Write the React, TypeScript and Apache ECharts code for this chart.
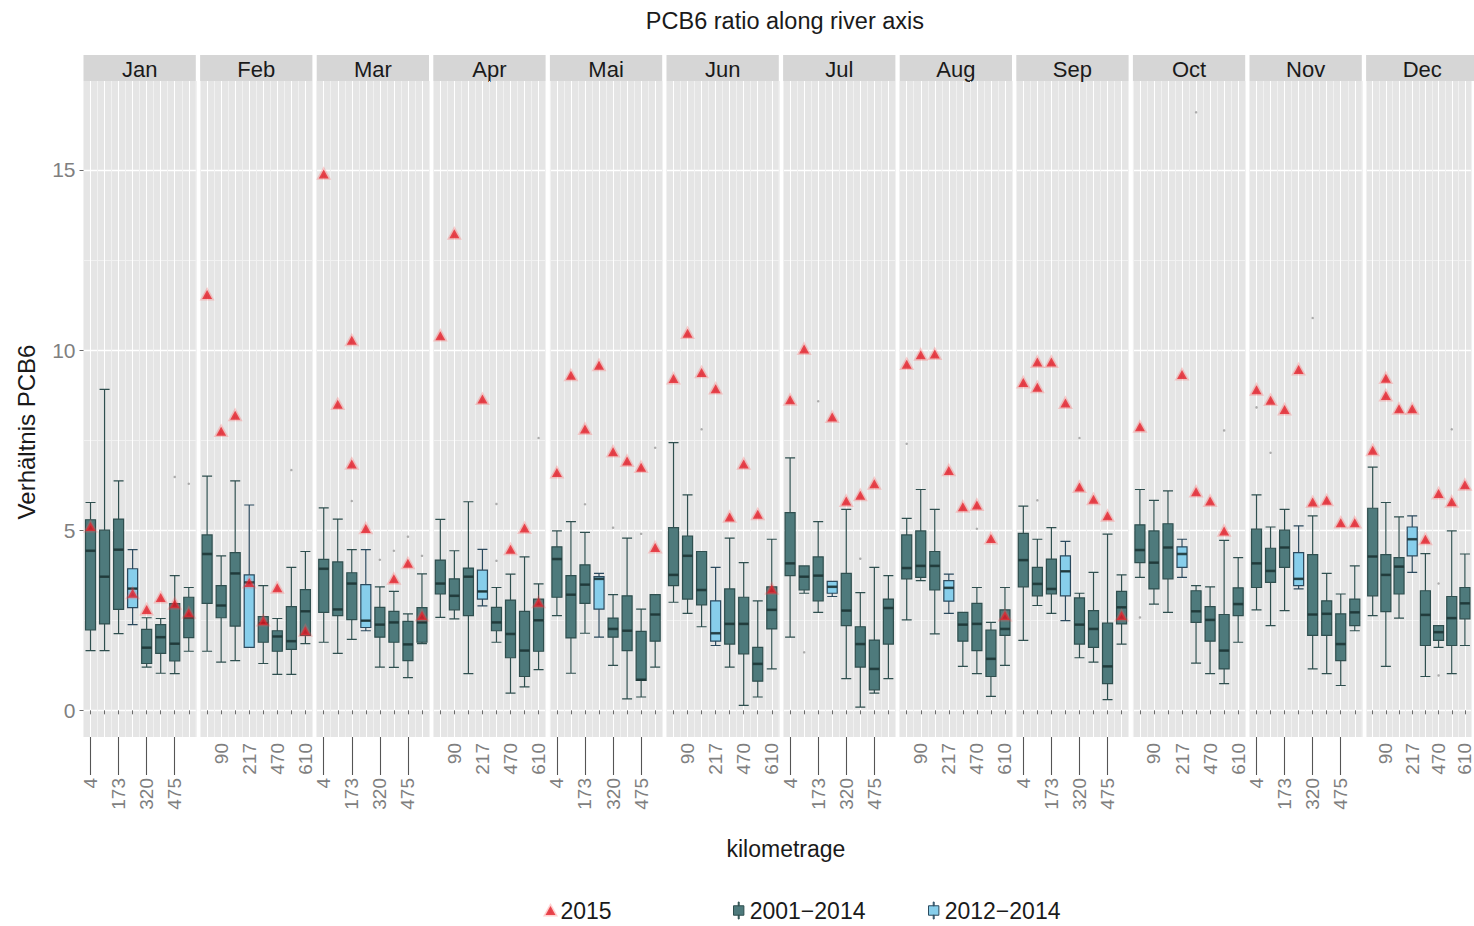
import React, { useEffect, useRef } from "react";
import * as echarts from "echarts";

// ---------- data ----------
const months = ["Jan", "Feb", "Mar", "Apr", "Mai", "Jun", "Jul", "Aug", "Sep", "Oct", "Nov", "Dec"];
const stations = ["4", "90", "173", "217", "320", "470", "475", "610"];
const NAME_2015 = "2015";
const NAME_DARK = "2001\u22122014";
const NAME_LIGHT = "2012\u22122014";

type Box = [number, number, number, number, number] | null;

// [min, Q1, median, Q3, max] per station, 2001–2014 (station 217 has none)
const box2001_2014: Box[][] = [
  [[1.66, 2.23, 4.43, 5.29, 5.77], [1.66, 2.4, 3.71, 5.0, 8.91], [2.13, 2.8, 4.46, 5.31, 6.37], null, [1.2, 1.3, 1.74, 2.25, 2.57], [1.03, 1.58, 2.03, 2.38, 2.55], [1.02, 1.37, 1.85, 2.96, 3.74], [1.64, 2.02, 2.57, 3.14, 3.41]],
  [[1.64, 2.97, 4.34, 4.87, 6.5], [1.34, 2.57, 2.91, 3.46, 4.29], [1.38, 2.34, 3.8, 4.38, 6.37], null, [1.3, 1.89, 2.42, 2.6, 3.46], [1.0, 1.64, 2.05, 2.21, 2.55], [1.0, 1.69, 1.92, 2.88, 3.97], [1.85, 2.08, 2.75, 3.35, 4.41]],
  [[1.89, 2.72, 3.93, 4.19, 5.62], [1.58, 2.63, 2.8, 4.12, 5.31], [1.97, 2.52, 3.52, 3.82, 4.46], null, [1.2, 2.03, 2.38, 2.86, 3.43], [1.19, 1.89, 2.44, 2.75, 3.3], [0.91, 1.38, 1.83, 2.47, 2.68], [1.85, 1.89, 2.44, 2.85, 3.79]],
  [[2.58, 3.23, 3.52, 4.17, 5.3], [2.54, 2.79, 3.18, 3.65, 4.43], [1.02, 2.63, 3.71, 3.95, 5.79], null, [1.89, 2.21, 2.44, 2.86, 3.41], [0.48, 1.46, 2.12, 3.06, 3.78], [0.65, 0.94, 1.66, 2.75, 4.26], [1.13, 1.64, 2.5, 3.09, 3.51]],
  [[2.63, 3.14, 4.2, 4.54, 4.98], [1.03, 2.01, 3.21, 3.74, 5.24], [2.14, 2.97, 3.49, 4.04, 4.94], null, [1.25, 2.03, 2.26, 2.56, 3.21], [0.32, 1.66, 2.21, 3.18, 4.78], [0.37, 0.83, 0.85, 2.19, 2.81], [1.2, 1.92, 2.66, 3.21, 3.21]],
  [[3.0, 3.46, 3.76, 5.07, 7.43], [2.69, 3.09, 4.29, 4.84, 5.98], [2.32, 2.93, 3.34, 4.41, 4.41], null, [1.2, 1.84, 2.4, 3.37, 4.78], [0.14, 1.57, 2.4, 3.14, 4.1], [0.37, 0.81, 1.29, 1.75, 3.04], [1.15, 2.26, 2.79, 3.43, 4.75]],
  [[2.03, 3.74, 4.08, 5.49, 7.01], [3.25, 3.34, 3.71, 4.01, 4.01], [2.72, 3.04, 3.74, 4.26, 5.24], null, [0.88, 2.35, 2.77, 3.8, 5.58], [0.09, 1.2, 1.84, 2.32, 3.27], [0.48, 0.57, 1.15, 1.95, 3.97], [0.88, 1.84, 2.84, 3.09, 3.74]],
  [[2.51, 3.65, 3.95, 4.87, 5.33], [3.6, 3.69, 4.01, 4.98, 6.13], [2.12, 3.34, 4.01, 4.41, 5.58], null, [1.22, 1.92, 2.38, 2.72, 2.72], [1.02, 1.66, 2.4, 2.97, 3.41], [0.39, 0.94, 1.43, 2.23, 2.44], [1.25, 2.08, 2.26, 2.79, 3.41]],
  [[1.94, 3.43, 4.17, 4.91, 5.67], [2.91, 3.18, 3.51, 3.97, 4.75], [2.69, 3.23, 3.37, 4.2, 5.07], null, [1.46, 1.84, 2.38, 3.12, 3.25], [1.34, 1.75, 2.26, 2.77, 3.83], [0.3, 0.74, 1.22, 2.42, 4.89], [1.84, 2.4, 2.86, 3.3, 3.76]],
  [[3.69, 4.1, 4.45, 5.15, 6.13], [2.95, 3.37, 4.1, 4.98, 5.83], [2.72, 3.65, 4.52, 5.18, 6.09], null, [1.31, 2.44, 2.75, 3.32, 3.46], [1.02, 1.92, 2.51, 2.88, 3.43], [0.74, 1.15, 1.66, 2.66, 4.72], [1.89, 2.63, 2.95, 3.4, 4.24]],
  [[2.79, 3.41, 4.08, 5.03, 5.98], [2.35, 3.55, 3.87, 4.5, 5.09], [2.77, 3.97, 4.52, 5.0, 5.58], null, [1.15, 2.08, 2.66, 4.32, 5.4], [1.02, 2.08, 2.68, 3.04, 3.8], [0.69, 1.38, 1.84, 2.68, 3.23], [2.21, 2.35, 2.72, 3.09, 4.01]],
  [[2.63, 3.18, 4.27, 5.61, 6.75], [1.22, 2.74, 3.76, 4.32, 5.77], [2.56, 3.23, 3.99, 4.24, 5.37], null, [0.94, 1.8, 2.65, 3.32, 4.35], [1.75, 1.94, 2.17, 2.35, 2.35], [1.02, 1.8, 2.56, 3.16, 4.98], [1.8, 2.54, 2.97, 3.41, 4.34]],
];

// 2012–2014 boxes, only at station 217, one per month
const station2012_2014 = 3;
const box2012_2014: Box[] = [
  [2.38, 2.85, 3.38, 3.93, 4.46],
  [1.75, 1.75, 3.55, 3.76, 5.7],
  [2.21, 2.3, 2.49, 3.49, 4.46],
  [2.9, 3.09, 3.3, 3.89, 4.47],
  [2.03, 2.81, 3.65, 3.71, 3.8],
  [1.8, 1.92, 2.14, 3.04, 3.97],
  [3.16, 3.25, 3.43, 3.58, 3.58],
  [2.69, 3.03, 3.4, 3.6, 3.78],
  [2.49, 3.18, 3.86, 4.29, 4.69],
  [3.69, 3.97, 4.34, 4.54, 4.75],
  [3.37, 3.46, 3.65, 4.38, 5.12],
  [3.83, 4.29, 4.75, 5.09, 5.4],
];

// 2015 values: [station index, value] per month
const pts2015: [number, number][][] = [
  [[0, 5.1], [3, 3.25], [4, 2.8], [5, 3.13], [6, 2.96], [7, 2.71]],
  [[0, 11.54], [1, 7.75], [2, 8.19], [3, 3.55], [4, 2.49], [5, 3.4], [7, 2.21]],
  [[0, 14.89], [1, 8.5], [2, 10.27], [2, 6.84], [3, 5.05], [5, 3.65], [6, 4.08], [7, 2.63]],
  [[0, 10.4], [1, 13.23], [3, 8.64], [5, 4.47], [6, 5.06], [7, 3.0]],
  [[0, 6.6], [1, 9.3], [2, 7.81], [3, 9.58], [4, 7.18], [5, 6.92], [6, 6.75], [7, 4.52]],
  [[0, 9.21], [1, 10.47], [2, 9.38], [3, 8.93], [4, 5.37], [5, 6.84], [6, 5.44], [7, 3.37]],
  [[0, 8.62], [1, 10.03], [3, 8.14], [4, 5.81], [5, 5.97], [6, 6.29]],
  [[0, 9.61], [1, 9.87], [2, 9.89], [3, 6.66], [4, 5.65], [5, 5.7], [6, 4.77], [7, 2.63]],
  [[0, 9.1], [1, 9.67], [1, 8.97], [2, 9.67], [3, 8.53], [4, 6.2], [5, 5.86], [6, 5.4], [7, 2.63]],
  [[0, 7.87], [3, 9.32], [4, 6.07], [5, 5.81], [6, 4.98]],
  [[0, 8.9], [1, 8.61], [2, 8.35], [3, 9.46], [4, 5.78], [5, 5.83], [6, 5.21], [7, 5.21]],
  [[0, 7.22], [1, 9.22], [1, 8.74], [2, 8.37], [3, 8.37], [4, 4.75], [5, 6.02], [6, 5.79], [7, 6.26]],
];

// outliers of 2001–2014: [station index, value] per month
const outlierPts: [number, number][][] = [
  [[6, 6.48], [7, 6.29]],
  [[6, 6.67]],
  [[2, 5.81], [4, 4.18], [5, 4.43], [6, 4.82], [7, 4.29]],
  [[4, 5.73], [4, 4.15], [7, 7.56]],
  [[2, 5.72], [4, 5.07], [6, 4.9], [7, 7.29]],
  [[2, 7.8]],
  [[1, 1.61], [2, 8.58], [5, 4.21]],
  [[0, 7.4], [5, 5.04]],
  [[1, 5.83], [4, 7.56]],
  [[0, 2.58], [4, 16.6], [6, 7.77]],
  [[0, 8.41], [1, 7.15], [4, 10.89]],
  [[5, 3.52], [5, 0.97], [6, 7.8]],
];

// ---------- layout ----------
const W = 1474;
const H = 926;
const PANEL_LEFT = 83.5;
const PANEL_W = 112.3;
const PANEL_STEP = 116.6;
const PANEL_TOP = 81;
const PANEL_H = 656;
const STRIP_TOP = 55;
const STRIP_H = 26;
const Y_MIN = -0.74;
const Y_MAX = 17.47;
const FONT = "'Liberation Sans', Arial, Helvetica, sans-serif";

const DARK_FILL = "#4E7A7C";
const DARK_BORDER = "#2F4F4F";
const LIGHT_FILL = "#87CEEB";
const LIGHT_BORDER = "#2B4A5E";
const RED = "#DC0F1C";
const RED_HALO = "rgba(255,90,90,0.35)";

const boxIcon = "path://M5,0h1v4h-1z M0,4h11v10h-11z M5,14h1v4h-1z";

function buildOption(): any {
  const grids: any[] = [];
  const xAxes: any[] = [];
  const yAxes: any[] = [];
  const series: any[] = [];
  const graphics: any[] = [];

  months.forEach((m, i) => {
    const left = PANEL_LEFT + i * PANEL_STEP;
    const odd = i % 2 === 0; // Jan, Mar, ... label stations 1,3,5,7
    grids.push({
      left,
      top: PANEL_TOP,
      width: PANEL_W,
      height: PANEL_H,
      show: true,
      backgroundColor: "#E5E5E5",
      borderWidth: 0,
    });
    // axis A: labels + short ticks
    xAxes.push({
      type: "category",
      gridIndex: i,
      position: "bottom",
      data: stations,
      axisLine: { show: false },
      axisTick: { show: true, alignWithLabel: true, interval: 0, length: 4, lineStyle: { color: "#6B6B6B" } },
      axisLabel: {
        interval: (idx: number) => (odd ? idx % 2 === 0 : idx % 2 === 1),
        rotate: 90,
        margin: odd ? 41 : 6,
        color: "#7F7F7F",
        fontSize: 19,
        fontFamily: FONT,
      },
      splitLine: { show: false },
    });
    // axis B: long ticks for staggered labels; hosts 2012–2014 boxes
    xAxes.push({
      type: "category",
      gridIndex: i,
      position: "bottom",
      data: stations,
      axisLine: { show: false },
      axisTick: {
        show: odd,
        alignWithLabel: true,
        interval: (idx: number) => idx % 2 === 0,
        length: 38,
        lineStyle: { color: "#555555", width: 1.1 },
      },
      axisLabel: { show: false },
      splitLine: { show: false },
    });
    // axis C: grid lines (minor at boundaries, major at stations)
    xAxes.push({
      type: "value",
      gridIndex: i,
      position: "bottom",
      min: 0,
      max: 16,
      interval: 1,
      axisLine: { show: false },
      axisTick: { show: false },
      axisLabel: { show: false },
      splitLine: { show: true, lineStyle: { color: ["#F1F1F1", "#FFFFFF"], width: 1 } },
    });
    yAxes.push({
      type: "value",
      gridIndex: i,
      position: "left",
      min: Y_MIN,
      max: Y_MAX,
      splitNumber: 4,
      axisLine: { show: false },
      axisTick: { show: i === 0, length: 4, lineStyle: { color: "#6B6B6B" } },
      axisLabel: {
        show: i === 0,
        color: "#7F7F7F",
        fontSize: 21,
        fontFamily: FONT,
        margin: 8,
        showMinLabel: false,
        showMaxLabel: false,
      },
      splitLine: { show: true, showMinLine: false, showMaxLine: false, lineStyle: { color: "#FFFFFF", width: 1.3 } },
      minorTick: { show: false, splitNumber: 2 },
      minorSplitLine: { show: true, lineStyle: { color: "#F1F1F1", width: 1 } },
    });

    const darkData = box2001_2014[i]
      .map((b, k) => (b ? [k, ...b] : null))
      .filter((d) => d !== null) as number[][];
    const lb = box2012_2014[i] as number[];
    const lightData = [[station2012_2014, ...lb]];

    series.push({
      type: "boxplot",
      name: NAME_DARK,
      xAxisIndex: 3 * i,
      yAxisIndex: i,
      data: darkData,
      encode: { x: 0, y: [1, 2, 3, 4, 5] },
      boxWidth: [10, 10],
      itemStyle: { color: DARK_FILL, borderColor: DARK_BORDER, borderWidth: 1.2 },
      z: 2,
      silent: true,
    });
    series.push({
      type: "boxplot",
      name: NAME_LIGHT,
      xAxisIndex: 3 * i + 1,
      yAxisIndex: i,
      data: lightData,
      encode: { x: 0, y: [1, 2, 3, 4, 5] },
      boxWidth: [10, 10],
      itemStyle: { color: LIGHT_FILL, borderColor: LIGHT_BORDER, borderWidth: 1.2 },
      z: 2,
      silent: true,
    });
    // thick median bars
    series.push({
      type: "scatter",
      name: "median",
      xAxisIndex: 3 * i,
      yAxisIndex: i,
      data: [...darkData.map((d) => [d[0], d[3]]), [station2012_2014, lb[2]]],
      symbol: "rect",
      symbolSize: [10, 2.6],
      itemStyle: { color: "#1D3535" },
      z: 3,
      silent: true,
    });
    series.push({
      type: "scatter",
      name: "outlier",
      xAxisIndex: 3 * i,
      yAxisIndex: i,
      data: outlierPts[i],
      symbol: "circle",
      symbolSize: 2.5,
      itemStyle: { color: "#9A9A9A" },
      z: 3,
      silent: true,
    });
    series.push({
      type: "scatter",
      name: NAME_2015,
      xAxisIndex: 3 * i,
      yAxisIndex: i,
      data: pts2015[i],
      symbol: "triangle",
      symbolSize: [10, 9],
      itemStyle: { color: RED, borderColor: RED_HALO, borderWidth: 3 },
      z: 5,
      silent: true,
    });

    graphics.push({
      type: "rect",
      shape: { x: left, y: STRIP_TOP, width: PANEL_W, height: STRIP_H },
      style: { fill: "#D6D6D6" },
      silent: true,
    });
    graphics.push({
      type: "text",
      x: left + PANEL_W / 2,
      y: STRIP_TOP + STRIP_H / 2 + 1,
      style: {
        text: m,
        fontSize: 22,
        fontFamily: FONT,
        fill: "#1A1A1A",
        textAlign: "center",
        textVerticalAlign: "middle",
      },
      silent: true,
    });
  });

  const plotCenter = PANEL_LEFT + (PANEL_STEP * 12 - (PANEL_STEP - PANEL_W)) / 2;
  graphics.push({
    type: "text",
    x: plotCenter + 4,
    y: 21,
    style: {
      text: "PCB6 ratio along river axis",
      fontSize: 23.5,
      fontFamily: FONT,
      fill: "#1A1A1A",
      textAlign: "center",
      textVerticalAlign: "middle",
    },
  });
  graphics.push({
    type: "text",
    x: plotCenter + 5,
    y: 849,
    style: {
      text: "kilometrage",
      fontSize: 23,
      fontFamily: FONT,
      fill: "#1A1A1A",
      textAlign: "center",
      textVerticalAlign: "middle",
    },
  });
  graphics.push({
    type: "text",
    x: 26,
    y: 432,
    rotation: Math.PI / 2,
    style: {
      text: "Verh\u00e4ltnis PCB6",
      fontSize: 24,
      fontFamily: FONT,
      fill: "#1A1A1A",
      textAlign: "center",
      textVerticalAlign: "middle",
    },
  });

  const legendText = { fontSize: 23, fontFamily: FONT, color: "#1A1A1A" };
  const legends = [
    {
      data: [{ name: NAME_2015, itemStyle: { color: RED, borderColor: RED_HALO, borderWidth: 3 } }],
      left: 544, top: 899, itemWidth: 10, itemHeight: 9, padding: 0, textStyle: legendText, selectedMode: false,
    },
    {
      data: [{ name: NAME_DARK, itemStyle: { color: DARK_FILL, borderColor: DARK_BORDER, borderWidth: 1 } }],
      left: 733, top: 899, itemWidth: 12, itemHeight: 17, icon: boxIcon, padding: 0, textStyle: legendText, selectedMode: false,
    },
    {
      data: [{ name: NAME_LIGHT, itemStyle: { color: LIGHT_FILL, borderColor: LIGHT_BORDER, borderWidth: 1 } }],
      left: 928, top: 899, itemWidth: 12, itemHeight: 17, icon: boxIcon, padding: 0, textStyle: legendText, selectedMode: false,
    },
  ];

  return {
    animation: false,
    backgroundColor: "#FFFFFF",
    textStyle: { fontFamily: FONT },
    grid: grids,
    xAxis: xAxes,
    yAxis: yAxes,
    series,
    legend: legends,
    graphic: graphics,
  };
}

export default function App() {
  const ref = useRef<HTMLDivElement>(null);
  useEffect(() => {
    if (!ref.current) return;
    const chart = echarts.init(ref.current, undefined, { renderer: "svg", width: W, height: H });
    chart.setOption(buildOption());
    return () => chart.dispose();
  }, []);
  return <div ref={ref} style={{ position: "absolute", left: 0, top: 0, width: W, height: H }} />;
}
